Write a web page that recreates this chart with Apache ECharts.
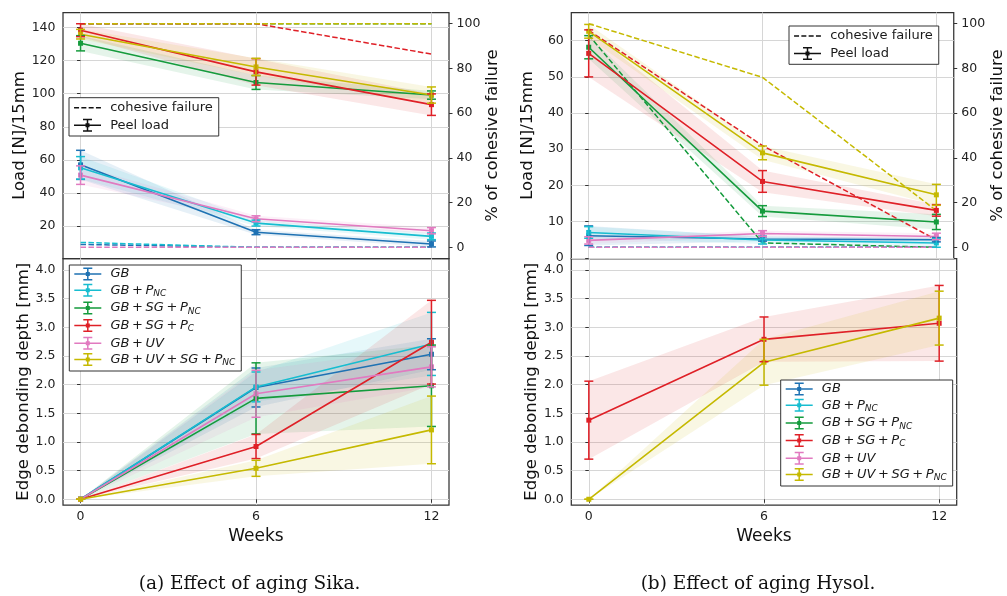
<!DOCTYPE html>
<html><head><meta charset="utf-8">
<script src="https://cdn.jsdelivr.net/npm/echarts@6/dist/echarts.min.js"></script>
<style>html,body{margin:0;padding:0;background:#fff}#c{width:1007px;height:596px}</style>
</head><body><div id="c"></div>
<script>
// ---------- data ----------
const weeks = [0, 6, 12];
const groupLabels = ['GB', 'GB + P_NC', 'GB + SG + P_NC', 'GB + SG + P_C', 'GB + UV', 'GB + UV + SG + P_NC'];
const groupColors = ['#1f72b3', '#17bdd0', '#159b3d', '#df2027', '#e17ac0', '#c5b900'];

// Sika: peel load [N]/15mm (mean, std)
const sikaLoadMean = [
  [57.0, 16.3, 9.2],
  [55.2, 21.8, 13.8],
  [130.5, 106.8, 99.2],
  [138.4, 113.2, 93.4],
  [50.8, 24.4, 17.2],
  [136.0, 116.2, 99.2]
];
const sikaLoadSd = [
  [8.8, 1.5, 1.8],
  [6.8, 1.8, 2.0],
  [4.6, 4.2, 2.5],
  [3.9, 8.0, 6.5],
  [5.6, 1.8, 1.9],
  [2.9, 5.2, 4.9]
];
// Sika: % of cohesive failure
const sikaCohesive = [
  [1.3, 0, 0],
  [2.2, 0, 0],
  [100, 100, 100],
  [100, 100, 86.4],
  [0, 0, 0],
  [100, 100, 100]
];
// Sika: edge debonding depth [mm]
const sikaDepthMean = [
  [0, 1.95, 2.53],
  [0, 1.96, 2.71],
  [0, 1.76, 1.98],
  [0, 0.92, 2.74],
  [0, 1.84, 2.31],
  [0, 0.54, 1.21]
];
const sikaDepthSd = [
  [0, 0.34, 0.27],
  [0, 0.26, 0.55],
  [0, 0.62, 0.71],
  [0, 0.21, 0.73],
  [0, 0.41, 0.35],
  [0, 0.14, 0.59]
];
// Hysol: peel load
const hysolLoadMean = [
  [6.1, 5.2, 5.0],
  [7.0, 4.9, 4.1],
  [58.2, 12.9, 9.9],
  [56.5, 21.1, 13.1],
  [4.8, 6.7, 5.9],
  [62.6, 29.0, 17.4]
];
const hysolLoadSd = [
  [2.7, 0.6, 0.6],
  [1.6, 1.1, 1.2],
  [3.2, 1.5, 2.1],
  [6.5, 3.0, 1.6],
  [1.0, 0.8, 0.9],
  [1.9, 1.9, 2.9]
];
const hysolCohesive = [
  [0, 0, 0],
  [0, 0, 0],
  [95, 2, 0],
  [97, 45.5, 3.3],
  [0, 0, 0],
  [100, 76, 16.4]
];
// Hysol: edge debonding depth (only two groups measured)
const hysolDepthMean = [null, null, null, [1.38, 2.79, 3.07], null, [0, 2.39, 3.16]];
const hysolDepthSd = [null, null, null, [0.68, 0.39, 0.66], null, [0, 0.40, 0.47]];

// tick labels
const weekTicks = [0, 6, 12];
const sikaLoadTicks = [20, 40, 60, 80, 100, 120, 140];
const hysolLoadTicks = [0, 10, 20, 30, 40, 50, 60];
const cohesiveTicks = [0, 20, 40, 60, 80, 100];
const depthTicks = [0, 0.5, 1.0, 1.5, 2.0, 2.5, 3.0, 3.5, 4.0];

// ---------- helpers ----------
const FONT = 'DejaVu Sans';
const TXT = '#222';
const errIcon = 'path://M0 5.75h27v1.5H0z M12.75 0h1.5v13h-1.5z M9 0h9v1.5H9z M9 11.5h9v1.5H9z M11.5 4.5h4v4h-4z';
const dashIcon = 'path://M0 0L0.01 0L0 0.01z M0 13L0.01 13L0 12.99z M0 5.75h5v1.5H0z M7.3 5.75h5v1.5h-5z M14.6 5.75h5v1.5h-5z M21.9 5.75h5v1.5h-5z';

function bandRender(color) {
  return function (params, api) {
    if (params.dataIndexInside !== 0) return null;
    const n = params.dataInsideLength;
    const top = [], bot = [];
    for (let i = 0; i < n; i++) {
      top.push(api.coord([api.value(0, i), api.value(2, i)]));
      bot.push(api.coord([api.value(0, i), api.value(1, i)]));
    }
    return { type: 'polygon', shape: { points: top.concat(bot.reverse()) },
      style: { fill: color, opacity: 0.11 } };
  };
}
function errRender(color) {
  return function (params, api) {
    const x = api.value(0);
    const lo = api.coord([x, api.value(1)]);
    const hi = api.coord([x, api.value(2)]);
    const cw = 4.5;
    const st = () => ({ stroke: color, lineWidth: 1.5 });
    return { type: 'group', children: [
      { type: 'line', shape: { x1: lo[0], y1: lo[1], x2: hi[0], y2: hi[1] }, style: st() },
      { type: 'line', shape: { x1: lo[0] - cw, y1: lo[1], x2: lo[0] + cw, y2: lo[1] }, style: st() },
      { type: 'line', shape: { x1: hi[0] - cw, y1: hi[1], x2: hi[0] + cw, y2: hi[1] }, style: st() }
    ] };
  };
}

const panels = [
  { xi: 0, yi: 0, yr: 1, mean: sikaLoadMean, sd: sikaLoadSd, coh: sikaCohesive },
  { xi: 1, yi: 2, mean: sikaDepthMean, sd: sikaDepthSd },
  { xi: 2, yi: 3, yr: 4, mean: hysolLoadMean, sd: hysolLoadSd, coh: hysolCohesive },
  { xi: 3, yi: 5, mean: hysolDepthMean, sd: hysolDepthSd }
];

const series = [];
panels.forEach(p => {
  p.mean.forEach((m, g) => {
    if (!m) return;
    series.push({
      type: 'line', name: groupLabels[g], xAxisIndex: p.xi, yAxisIndex: p.yi, z: 4,
      data: weeks.map((w, i) => [w, m[i]]),
      symbol: 'rect', symbolSize: 5, showSymbol: true,
      itemStyle: { color: groupColors[g] },
      lineStyle: { color: groupColors[g], width: 1.6 }, silent: true
    });
  });
});
panels.forEach(p => {
  p.mean.forEach((m, g) => {
    if (!m) return;
    const sd = p.sd[g];
    const rng = weeks.map((w, i) => [w, m[i] - sd[i], m[i] + sd[i]]);
    series.push({
      type: 'custom', name: groupLabels[g] + ' band', xAxisIndex: p.xi, yAxisIndex: p.yi, z: 1,
      renderItem: bandRender(groupColors[g]), data: rng, encode: { x: 0, y: [1, 2] },
      itemStyle: { color: groupColors[g] }, silent: true
    });
    series.push({
      type: 'custom', name: groupLabels[g] + ' err', xAxisIndex: p.xi, yAxisIndex: p.yi, z: 5,
      renderItem: errRender(groupColors[g]), data: rng, encode: { x: 0, y: [1, 2] },
      itemStyle: { color: groupColors[g] }, silent: true
    });
    if (p.coh) {
      series.push({
        type: 'line', name: groupLabels[g] + ' cohesive', xAxisIndex: p.xi, yAxisIndex: p.yr, z: 3,
        data: weeks.map((w, i) => [w, p.coh[g][i]]), symbol: 'none',
        lineStyle: { color: groupColors[g], width: 1.5, type: [5.5, 2.4] },
        itemStyle: { color: groupColors[g] }, silent: true
      });
    }
  });
});
series.push({ type: 'line', name: 'cohesive failure', xAxisIndex: 0, yAxisIndex: 0, data: [],
  itemStyle: { color: '#111' }, lineStyle: { color: '#111', type: 'dashed' } });
series.push({ type: 'line', name: 'Peel load', xAxisIndex: 0, yAxisIndex: 0, data: [],
  itemStyle: { color: '#111' }, lineStyle: { color: '#111' } });

function xAxisFor(gi, bottom) {
  return {
    type: 'value', gridIndex: gi, min: -0.6, max: 12.6,
    axisLine: { show: false },
    axisTick: { show: bottom, customValues: weekTicks, length: 3.5, lineStyle: { color: '#333', width: 1 } },
    axisLabel: { show: bottom, customValues: weekTicks, margin: 5, fontSize: 12.5, color: TXT, fontFamily: FONT },
    splitLine: { show: true, lineStyle: { color: '#d6d6d6', width: 1 } },
    name: bottom ? 'Weeks' : '', nameLocation: 'middle', nameGap: 23,
    nameTextStyle: { fontSize: 17, color: '#111', fontFamily: FONT }
  };
}
function yAxisFor(gi, pos, min, max, ticks, name, gap, grid, fmt) {
  return {
    type: 'value', gridIndex: gi, position: pos, min: min, max: max,
    axisLine: { show: false },
    axisTick: { show: true, customValues: ticks, length: 3.5, lineStyle: { color: '#333', width: 1 } },
    axisLabel: { customValues: ticks, margin: 7.5, fontSize: 12.5, color: TXT, fontFamily: FONT,
      formatter: fmt || (v => String(v)) },
    splitLine: { show: grid, lineStyle: { color: '#d6d6d6', width: 1 } },
    name: name, nameLocation: 'middle', nameGap: gap,
    nameTextStyle: { fontSize: 16.5, color: '#111', fontFamily: FONT }
  };
}
const depthFmt = v => v.toFixed(1);

function legendFor(left, top, names, pad, gap) {
  return {
    orient: 'vertical', left: left, top: top, selectedMode: false,
    data: names.map(n => ({ name: n, icon: n === 'cohesive failure' ? dashIcon : errIcon })),
    itemWidth: 27, itemHeight: 13, itemGap: gap, padding: pad,
    backgroundColor: '#fff', borderColor: '#333', borderWidth: 1, borderRadius: 0,
    itemStyle: { borderWidth: 0 },
    textStyle: {
      fontFamily: FONT, fontSize: 13, color: '#1a1a1a',
      rich: {
        n: { fontSize: 13, lineHeight: 14, fontFamily: FONT, color: '#1a1a1a' },
        i: { fontSize: 13, lineHeight: 16, fontStyle: 'italic', fontFamily: FONT, color: '#1a1a1a' },
        s: { fontSize: 9, lineHeight: 8, fontStyle: 'italic', fontFamily: FONT, color: '#1a1a1a', verticalAlign: 'bottom' }
      }
    },
    formatter: function (name) {
      const idx = groupLabels.indexOf(name);
      if (idx < 0) return '{n| ' + name + '}';
      const parts = name.split('_');
      return '{i| ' + parts[0].replace(/ \+ /g, '\u2009+\u2009') + '}' + (parts[1] ? '{s|' + parts[1] + '}' : '');
    }
  };
}

const gridStyle = { show: true, borderColor: '#333', borderWidth: 1.25, backgroundColor: 'transparent' };
const option = {
  animation: false,
  textStyle: { fontFamily: FONT },
  grid: [
    Object.assign({ left: 63, top: 12.5, width: 386, height: 246 }, gridStyle),
    Object.assign({ left: 63, top: 258.5, width: 386, height: 246.5 }, gridStyle),
    Object.assign({ left: 571.3, top: 12.5, width: 385.4, height: 246 }, gridStyle),
    Object.assign({ left: 571.3, top: 258.5, width: 385.4, height: 246.5 }, gridStyle)
  ],
  xAxis: [xAxisFor(0, false), xAxisFor(1, true), xAxisFor(2, false), xAxisFor(3, true)],
  yAxis: [
    yAxisFor(0, 'left', 0.4, 149.1, sikaLoadTicks, 'Load [N]/15mm', 35, true),
    yAxisFor(0, 'right', -5, 105, cohesiveTicks, '% of cohesive failure', 32, false),
    yAxisFor(1, 'left', -0.1, 4.2, depthTicks, 'Edge debonding depth [mm]', 31, true, depthFmt),
    yAxisFor(2, 'left', -0.2, 67.8, hysolLoadTicks, 'Load [N]/15mm', 35, true),
    yAxisFor(2, 'right', -5, 105, cohesiveTicks, '% of cohesive failure', 32, false),
    yAxisFor(3, 'left', -0.1, 4.2, depthTicks, 'Edge debonding depth [mm]', 31, true, depthFmt)
  ],
  legend: [
    legendFor(69, 97.7, ['cohesive failure', 'Peel load'], [3.6, 6, 4.3, 5], 4.4),
    legendFor(789, 26, ['cohesive failure', 'Peel load'], [3.6, 6, 4.3, 5], 4.4),
    legendFor(69.3, 265, groupLabels, [2.5, 6, 3.5, 5], 3.2),
    legendFor(780.7, 380, groupLabels, [2.5, 6, 3.5, 5], 3.2)
  ],
  graphic: [
    { type: 'text', x: 249.5, y: 584, silent: true,
      style: { text: '(a) Effect of aging Sika.', fontFamily: 'DejaVu Serif', fontSize: 18.5, fill: '#111',
        align: 'center', verticalAlign: 'middle', textAlign: 'center', textVerticalAlign: 'middle' } },
    { type: 'text', x: 758, y: 584, silent: true,
      style: { text: '(b) Effect of aging Hysol.', fontFamily: 'DejaVu Serif', fontSize: 18.5, fill: '#111',
        align: 'center', verticalAlign: 'middle', textAlign: 'center', textVerticalAlign: 'middle' } }
  ],
  series: series
};
const chart = echarts.init(document.getElementById('c'), null, { renderer: 'canvas' });
chart.setOption(option);
</script></body></html>
